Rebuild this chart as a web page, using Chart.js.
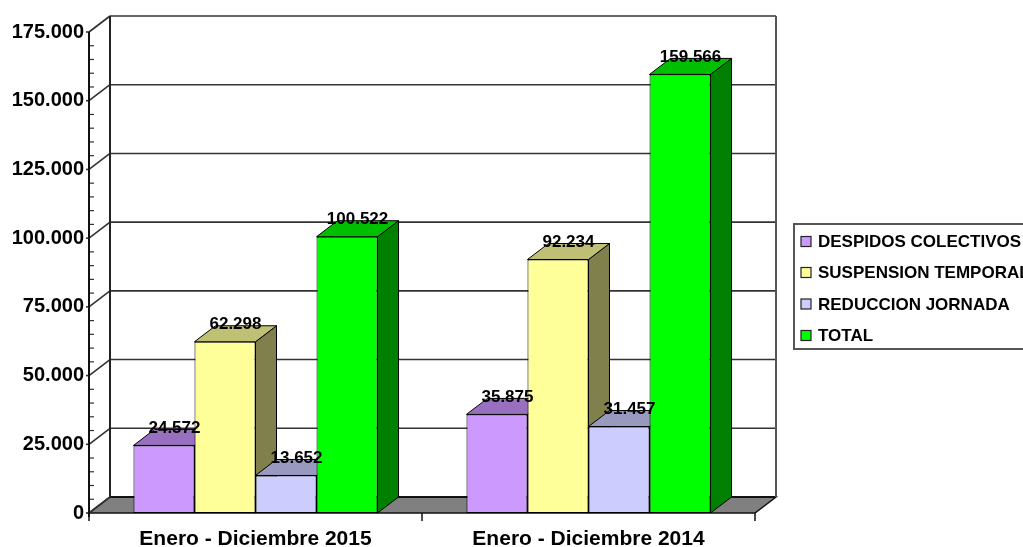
<!DOCTYPE html>
<html>
<head>
<meta charset="utf-8">
<script src="https://cdn.jsdelivr.net/npm/chart.js@4.4.1/dist/chart.umd.min.js"></script>
<style>
html,body{margin:0;padding:0;background:#fff;}
#wrap{position:relative;width:1023px;height:547px;}
</style>
</head>
<body>
<div id="wrap"><canvas id="c" width="1023" height="547"></canvas></div>
<script>
const categories = ["Enero - Diciembre 2015", "Enero - Diciembre 2014"];
const seriesNames = ["DESPIDOS COLECTIVOS", "SUSPENSION TEMPORAL", "REDUCCION JORNADA", "TOTAL"];
const despidos = [24572, 35875];
const suspension = [62298, 92234];
const reduccion = [13652, 31457];
const total = [100522, 159566];
const yTicks = [0, 25000, 50000, 75000, 100000, 125000, 150000, 175000];

const frontColors = ["#CC99FF", "#FFFF99", "#CCCCFF", "#00FF00"];
const topColors = ["#9970C0", "#C0C074", "#9999BF", "#00BF00"];
const sideColors = ["#66508A", "#80804C", "#70708C", "#008000"];

const DX = 21, DY = 16;

function fmt(v){ return v.toString().replace(/\B(?=(\d{3})+(?!\d))/g, "."); }

function drawBackground(chart) {
  const ctx = chart.ctx, a = chart.chartArea, y = chart.scales.y;
  ctx.save();
  ctx.fillStyle = '#fff';
  ctx.fillRect(a.left + DX, a.top - DY, a.right - a.left, a.bottom - a.top);
  // floor
  ctx.beginPath();
  ctx.moveTo(a.left, a.bottom);
  ctx.lineTo(a.right, a.bottom);
  ctx.lineTo(a.right + DX, a.bottom - DY);
  ctx.lineTo(a.left + DX, a.bottom - DY);
  ctx.closePath();
  ctx.fillStyle = '#808080';
  ctx.fill();
  ctx.lineWidth = 1.5;
  ctx.strokeStyle = '#111';
  ctx.stroke();
  ctx.lineWidth = 2.2;
  ctx.beginPath();
  ctx.moveTo(a.left + DX, a.bottom - DY);
  ctx.lineTo(a.right + DX, a.bottom - DY);
  ctx.stroke();
  // back gridlines
  ctx.strokeStyle = '#333';
  ctx.lineWidth = 1.6;
  yTicks.forEach(t => {
    const py = y.getPixelForValue(t) - DY;
    if (t > 0) {
      ctx.beginPath();
      ctx.moveTo(a.left + DX, py);
      ctx.lineTo(a.right + DX, py);
      ctx.stroke();
    }
    ctx.beginPath();
    ctx.moveTo(a.left, py + DY);
    ctx.lineTo(a.left + DX, py);
    ctx.stroke();
    ctx.beginPath();
    ctx.moveTo(a.left - 3, py + DY);
    ctx.lineTo(a.left, py + DY);
    ctx.stroke();
  });
  ctx.strokeStyle = '#222';
  ctx.lineWidth = 2;
  ctx.beginPath();
  ctx.moveTo(a.left + DX, a.bottom - DY);
  ctx.lineTo(a.left + DX, a.top - DY);
  ctx.stroke();
  ctx.strokeStyle = '#555';
  ctx.beginPath();
  ctx.moveTo(a.right + DX, a.bottom - DY);
  ctx.lineTo(a.right + DX, a.top - DY);
  ctx.stroke();
  // minor ticks
  ctx.strokeStyle = '#333';
  ctx.lineWidth = 1.2;
  for (let v = 5000; v < 175000; v += 5000) {
    if (v % 25000 === 0) continue;
    const py = y.getPixelForValue(v);
    ctx.beginPath();
    ctx.moveTo(a.left, py);
    ctx.lineTo(a.left + 5, py);
    ctx.stroke();
  }
  // front y axis
  ctx.strokeStyle = '#111';
  ctx.lineWidth = 2;
  ctx.beginPath();
  ctx.moveTo(a.left, a.top);
  ctx.lineTo(a.left, a.bottom + 4);
  ctx.stroke();
  // x ticks
  ctx.lineWidth = 1.5;
  [a.left, (a.left + a.right) / 2, a.right].forEach(px => {
    ctx.beginPath();
    ctx.moveTo(px, a.bottom);
    ctx.lineTo(px, a.bottom + 8);
    ctx.stroke();
  });
  ctx.restore();
}

const threeD = {
  id: 'threeD',
  beforeDatasetsDraw(chart) {
    const ctx = chart.ctx;
    drawBackground(chart);
    chart.data.datasets.forEach((ds, i) => {
      const meta = chart.getDatasetMeta(i);
      meta.data.forEach(bar => {
        const p = bar.getProps(['x', 'y', 'base', 'width'], true);
        const l = p.x - p.width / 2, r = p.x + p.width / 2, t = p.y, b = p.base;
        ctx.save();
        ctx.lineWidth = 1;
        ctx.strokeStyle = '#000';
        ctx.beginPath();
        ctx.moveTo(r, b);
        ctx.lineTo(r + DX, b - DY);
        ctx.lineTo(r + DX, t - DY);
        ctx.lineTo(r, t);
        ctx.closePath();
        ctx.fillStyle = sideColors[i];
        ctx.fill();
        ctx.stroke();
        ctx.beginPath();
        ctx.moveTo(l, t);
        ctx.lineTo(l + DX, t - DY);
        ctx.lineTo(r + DX, t - DY);
        ctx.lineTo(r, t);
        ctx.closePath();
        ctx.fillStyle = topColors[i];
        ctx.fill();
        ctx.stroke();
        ctx.restore();
        bar.draw(ctx, chart.chartArea);
      });
    });
    return false;
  },
  afterDraw(chart) {
    const ctx = chart.ctx;
    ctx.save();
    ctx.font = 'bold 17px "Liberation Sans", Arial, sans-serif';
    ctx.fillStyle = '#000';
    ctx.textAlign = 'center';
    ctx.textBaseline = 'middle';
    chart.data.datasets.forEach((ds, i) => {
      chart.getDatasetMeta(i).data.forEach((bar, j) => {
        const p = bar.getProps(['x', 'y'], true);
        ctx.fillText(fmt(ds.data[j]), p.x + DX / 2, p.y - DY - 1);
      });
    });
    // legend
    const lx = 794, ly = 224, lw = 240, lh = 125;
    ctx.strokeStyle = '#555';
    ctx.lineWidth = 2;
    ctx.strokeRect(lx, ly, lw, lh);
    ctx.font = 'bold 17px "Liberation Sans", Arial, sans-serif';
    ctx.textAlign = 'left';
    const rows = [241.5, 272.5, 304, 335.5];
    chart.data.datasets.forEach((ds, i) => {
      const cy = rows[i];
      ctx.fillStyle = frontColors[i];
      ctx.fillRect(801, cy - 5, 10, 10);
      ctx.strokeStyle = '#222';
      ctx.lineWidth = 1.2;
      ctx.strokeRect(801, cy - 5, 10, 10);
      ctx.fillStyle = '#000';
      ctx.fillText(ds.label, 818, cy + 1);
    });
    ctx.restore();
  }
};

const seriesValues = [despidos, suspension, reduccion, total];

new Chart(document.getElementById('c'), {
  type: 'bar',
  data: {
    labels: categories,
    datasets: seriesNames.map((n, i) => ({
      label: n,
      data: seriesValues[i],
      backgroundColor: frontColors[i],
      borderColor: '#000',
      borderWidth: 1,
      borderSkipped: false,
      categoryPercentage: 0.733,
      barPercentage: 1.0
    }))
  },
  options: {
    responsive: false,
    animation: false,
    devicePixelRatio: 1,
    layout: { padding: { left: 0, top: 32, right: 268, bottom: 0 } },
    plugins: { legend: { display: false }, tooltip: { enabled: false } },
    scales: {
      x: {
        grid: { display: false, drawTicks: false },
        border: { display: false },
        ticks: { color: '#000', font: { family: '"Liberation Sans", Arial, sans-serif', size: 21, weight: 'bold' }, padding: 14, maxRotation: 0 },
        afterFit(s) { s.height = 34; }
      },
      y: {
        min: 0, max: 175000,
        afterBuildTicks(s) { s.ticks = yTicks.map(v => ({ value: v })); },
        grid: { display: false, drawTicks: false },
        border: { display: false },
        ticks: { color: '#000', font: { family: '"Liberation Sans", Arial, sans-serif', size: 20, weight: 'bold' }, padding: 5, callback: v => fmt(v) },
        afterFit(s) { s.width = 89; }
      }
    }
  },
  plugins: [threeD]
});
</script>
</body>
</html>
